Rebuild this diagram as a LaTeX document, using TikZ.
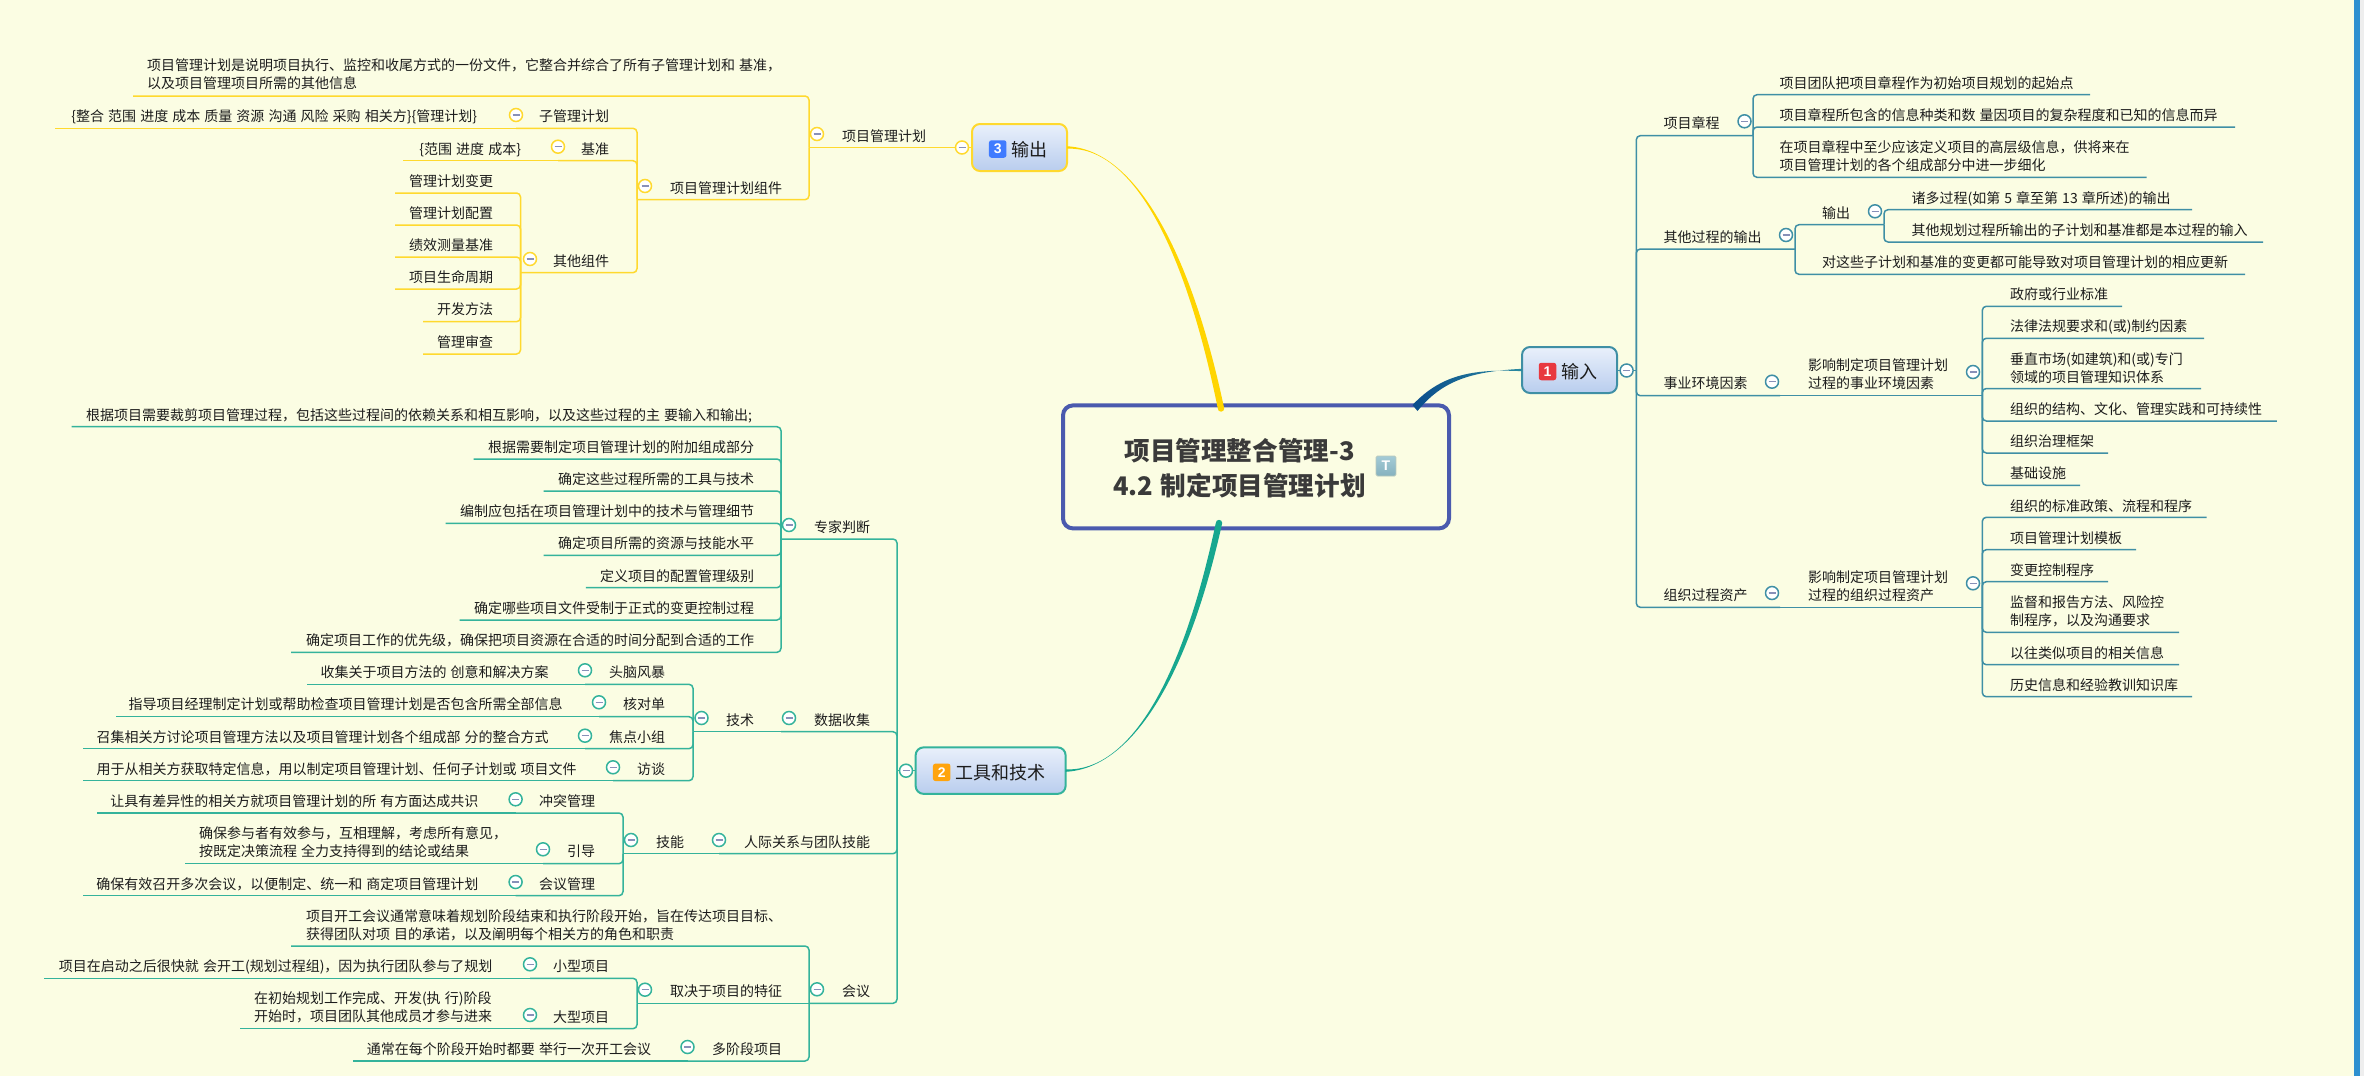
\documentclass[tikz,border=0pt]{standalone}
\usepackage{fontspec}
\setmainfont{Noto Sans CJK SC}[WordSpace=1.3]
\newfontfamily\latf{Liberation Sans}
\definecolor{bgc}{HTML}{FBFDE3}
\definecolor{yl}{HTML}{FFD92E}
\definecolor{yld}{HTML}{FFD500}
\definecolor{gn}{HTML}{34B39B}
\definecolor{gnd}{HTML}{17A78F}
\definecolor{bl}{HTML}{3F8FA5}
\definecolor{txt}{HTML}{1C1C1C}
\definecolor{minusc}{HTML}{8890B8}
\definecolor{rootc}{HTML}{4A5AAE}
\definecolor{boxt}{HTML}{E9F0FB}
\definecolor{boxb}{HTML}{B9CDEE}
\definecolor{strip}{HTML}{2E90D0}
\definecolor{stripb}{HTML}{EEEEEE}
\definecolor{roott}{HTML}{3A3A3A}
\definecolor{ticb}{HTML}{B7C9BE}
\definecolor{tict}{HTML}{A3CBD6}
\definecolor{ticl}{HTML}{85B1BE}
\definecolor{bdgb}{HTML}{3F7BFF}
\definecolor{bdgo}{HTML}{FFA40D}
\definecolor{bdgr}{HTML}{E8383F}
\definecolor{arcn}{HTML}{0A4C8C}
\definecolor{arct}{HTML}{2A8AA0}
\newcommand\tlbl[5]{\node[lbl,anchor=#4] (#1) at (#2,#3) {\rule{0pt}{11pt}#5\rule[-3pt]{0pt}{3pt}};}
% name, parent junction, far x, underline y, text x, text y, anchor, text
\newcommand\tp[8]{\tlbl{#1}{#5}{#6}{#7}{#8}\coordinate (#1-j) at (#3,#4);\draw[conn] (#2) |- (#1-j);}
\newcommand\tq[8]{\tlbl{#1}{#5}{#6}{#7}{#8}\coordinate (#1-j) at (#3,#4);\draw[conn] (#2) -- (#1-j);}
\tikzset{
  lbl/.style={inner sep=0pt,outer sep=0pt,align=left,text=txt,yshift=-1pt,font=\fontsize{14}{18}\selectfont},
  conn/.style={line width=1.5pt,rounded corners=4pt},
  tog/.style={circle,draw=#1,fill=white,minimum size=13pt,inner sep=0pt,line width=1.5pt,
    path picture={\draw[minusc,line width=1.5pt] ([xshift=-3.5pt]path picture bounding box.center) -- ([xshift=3.5pt]path picture bounding box.center);}},
  topbox/.style={draw=#1,line width=2pt,rounded corners=8pt,top color=boxt,bottom color=boxb,inner sep=0pt,outer sep=0pt},
  badge/.style={fill=#1,rounded corners=2.5pt,minimum size=17.5pt,inner sep=0pt,text=white,font=\latf\bfseries\fontsize{14}{14}\selectfont},
  toptext/.style={inner sep=0pt,text=txt,font=\fontsize{18}{20}\selectfont,anchor=west},
}
\begin{document}
\begin{tikzpicture}[x=1pt,y=-1pt]
\useasboundingbox (0,0) rectangle (2364,1076);
\fill[bgc] (0,0) rectangle (2364,1076);
\fill[strip] (2354,0) rectangle (2360,1076);
\fill[stripb] (2360,0) rectangle (2364,1076);

% ---------- root
\node[draw=rootc,line width=4pt,rounded corners=10pt,minimum width=386pt,minimum height=123pt,inner sep=0pt,outer sep=0pt,fill=bgc] (root) at (1256,466.9) {};
\node[inner sep=0pt,align=center,text=roott,font=\bfseries\fontsize{25.6}{35}\selectfont] (rootT) at (1239.5,468.5) {项目管理整合管理-3\\4.2 制定项目管理计划};
\node[draw=ticb,line width=.8pt,rounded corners=1.5pt,top color=tict,bottom color=ticl,minimum size=20pt,inner sep=0pt,text=white,font=\latf\bfseries\fontsize{14}{14}\selectfont] (rootI) at (1386,466) {T};

% ---------- yellow branch
\begin{scope}[conn/.append style={draw=yl}]
\coordinate (b3w) at (972,147.5);
\tq{pmp}{b3w}{809}{147.5}{926}{136}{east}{项目管理计划}
\tp{pmpdoc}{pmp-j}{133}{96}{147}{74.5}{west}{项目管理计划是说明项目执行、监控和收尾方式的一份文件，它整合并综合了所有子管理计划和 基准，\\以及项目管理项目所需的其他信息}
\tp{comp}{pmp-j}{637}{199.7}{782}{187.7}{east}{项目管理计划组件}
\tp{sub}{comp-j}{516}{128.3}{609}{116}{east}{子管理计划}
\tq{subd}{sub-j}{55}{128.3}{477}{116}{east}{\{整合 范围 进度 成本 质量 资源 沟通 风险 采购 相关方\}\{管理计划\}}
\tp{base}{comp-j}{558}{160.7}{609}{149}{east}{基准}
\tq{based}{base-j}{403}{160.7}{521}{149}{east}{\{范围 进度 成本\}}
\tp{oth}{comp-j}{520.5}{272.7}{609}{260.7}{east}{其他组件}
\tp{o1}{oth-j}{395}{193}{493}{180.7}{east}{管理计划变更}
\tp{o2}{oth-j}{395}{225}{493}{213}{east}{管理计划配置}
\tp{o3}{oth-j}{395}{257}{493}{245}{east}{绩效测量基准}
\tp{o4}{oth-j}{395}{289}{493}{277}{east}{项目生命周期}
\tp{o5}{oth-j}{423}{321.7}{493}{309.5}{east}{开发方法}
\tp{o6}{oth-j}{423}{354}{493}{341.7}{east}{管理审查}
\node[tog=yl] (t31) at (962,147.5) {};
\node[tog=yl] (t32) at (817,134) {};
\node[tog=yl] (t33) at (645,186) {};
\node[tog=yl] (t34) at (516,115) {};
\node[tog=yl] (t35) at (558,146.7) {};
\node[tog=yl] (t36) at (530,259) {};
\end{scope}

% ---------- green branch
\begin{scope}[conn/.append style={draw=gn}]
\coordinate (b2w) at (915.5,770.7);
\coordinate (b2j) at (897,770.7);
\draw[conn] (b2w) -- (b2j);
\tp{exp}{b2j}{781}{539}{870}{526.7}{east}{专家判断}
\tp{e1}{exp-j}{71.5}{426.7}{752}{414.7}{east}{根据项目需要裁剪项目管理过程，包括这些过程间的依赖关系和相互影响，以及这些过程的主 要输入和输出;}
\tp{e2}{exp-j}{473.5}{459}{754}{447}{east}{根据需要制定项目管理计划的附加组成部分}
\tp{e3}{exp-j}{543.6}{491}{754}{479}{east}{确定这些过程所需的工具与技术}
\tp{e4}{exp-j}{445.5}{523.3}{754}{511}{east}{编制应包括在项目管理计划中的技术与管理细节}
\tp{e5}{exp-j}{543.6}{555.3}{754}{543}{east}{确定项目所需的资源与技能水平}
\tp{e6}{exp-j}{585.8}{587.7}{754}{575.7}{east}{定义项目的配置管理级别}
\tp{e7}{exp-j}{459.5}{620}{754}{607.7}{east}{确定哪些项目文件受制于正式的变更控制过程}
\tp{e8}{exp-j}{291}{652.3}{754}{640}{east}{确定项目工作的优先级，确保把项目资源在合适的时间分配到合适的工作}
\tp{dat}{b2j}{781}{731.7}{870}{720}{east}{数据收集}
\tq{tech}{dat-j}{693}{731.7}{754}{720}{east}{技术}
\tp{d1}{tech-j}{585}{684.3}{665}{671.7}{east}{头脑风暴}
\tq{d1d}{d1-j}{307}{684.3}{548.6}{671.7}{east}{收集关于项目方法的 创意和解决方案}
\tp{d2}{tech-j}{599}{716.7}{665}{703.7}{east}{核对单}
\tq{d2d}{d2-j}{115.7}{716.7}{562.6}{703.7}{east}{指导项目经理制定计划或帮助检查项目管理计划是否包含所需全部信息}
\tp{d3}{tech-j}{585}{748.7}{665}{737.3}{east}{焦点小组}
\tq{d3d}{d3-j}{82.8}{748.7}{548.6}{737.3}{east}{召集相关方讨论项目管理方法以及项目管理计划各个组成部 分的整合方式}
\tp{d4}{tech-j}{613}{780.7}{665}{768.7}{east}{访谈}
\tq{d4d}{d4-j}{82.8}{780.7}{576.6}{768.7}{east}{用于从相关方获取特定信息，用以制定项目管理计划、任何子计划或 项目文件}
\tp{ppl}{b2j}{719}{853.7}{870}{841.7}{east}{人际关系与团队技能}
\tq{skl}{ppl-j}{623}{853.7}{684}{841.7}{east}{技能}
\tp{s1}{skl-j}{515.6}{813}{595}{801}{east}{冲突管理}
\tq{s1d}{s1-j}{96.8}{813}{478.4}{801}{east}{让具有差异性的相关方就项目管理计划的所 有方面达成共识}
\tp{s2}{skl-j}{543}{863.7}{595}{851}{east}{引导}
\tq{s2d}{s2-j}{185}{863.7}{199}{842}{west}{确保参与者有效参与，互相理解，考虑所有意见，\\按既定决策流程 全力支持得到的结论或结果}
\tp{s3}{skl-j}{515.6}{895.7}{595}{883.7}{east}{会议管理}
\tq{s3d}{s3-j}{82.8}{895.7}{478.4}{883.7}{east}{确保有效召开多次会议，以便制定、统一和 商定项目管理计划}
\tp{mtg}{b2j}{809}{1003.3}{870}{991}{east}{会议}
\tp{m0}{mtg-j}{291}{946}{306}{925}{west}{项目开工会议通常意味着规划阶段结束和执行阶段开始，旨在传达项目目标、\\获得团队对项 目的承诺，以及阐明每个相关方的角色和职责}
\tq{m1}{mtg-j}{637}{1003.3}{782}{991}{east}{取决于项目的特征}
\tp{m1a}{m1-j}{530}{978.3}{609}{966}{east}{小型项目}
\tq{m1ad}{m1a-j}{43.5}{978.3}{492.5}{966}{east}{项目在启动之后很快就 会开工(规划过程组)，因为执行团队参与了规划}
\tp{m1b}{m1-j}{530}{1028.7}{609}{1017}{east}{大型项目}
\tq{m1bd}{m1b-j}{240}{1028.7}{254}{1007.5}{west}{在初始规划工作完成、开发(执 行)阶段\\开始时，项目团队其他成员才参与进来}
\tp{m2}{mtg-j}{687.5}{1061}{782}{1049.3}{east}{多阶段项目}
\tq{m2d}{m2-j}{353}{1061}{651}{1049.3}{east}{通常在每个阶段开始时都要 举行一次开工会议}
\node[tog=gn] (t201) at (906,770.7) {};
\node[tog=gn] (t202) at (789,525) {};
\node[tog=gn] (t203) at (789,718) {};
\node[tog=gn] (t204) at (701.5,718) {};
\node[tog=gn] (t205) at (585,670.3) {};
\node[tog=gn] (t206) at (599,702.3) {};
\node[tog=gn] (t207) at (585,735.7) {};
\node[tog=gn] (t208) at (613,767.3) {};
\node[tog=gn] (t209) at (719,840) {};
\node[tog=gn] (t210) at (631,840) {};
\node[tog=gn] (t211) at (515.6,799.3) {};
\node[tog=gn] (t212) at (543,849.3) {};
\node[tog=gn] (t213) at (515.6,882) {};
\node[tog=gn] (t214) at (817,989.3) {};
\node[tog=gn] (t215) at (645,989.7) {};
\node[tog=gn] (t216) at (530,964.3) {};
\node[tog=gn] (t217) at (530,1015) {};
\node[tog=gn] (t218) at (687.5,1047) {};
\end{scope}

% ---------- blue branch
\begin{scope}[conn/.append style={draw=bl}]
\coordinate (b1e) at (1617,370.5);
\coordinate (b1j) at (1636.3,370.5);
\draw[conn] (b1e) -- (b1j);
\tp{cha}{b1j}{1753}{135.7}{1663.5}{122.7}{west}{项目章程}
\tp{c1}{cha-j}{2090}{94.7}{1779.6}{82.7}{west}{项目团队把项目章程作为初始项目规划的起始点}
\tp{c2}{cha-j}{2235}{127}{1779.6}{114.7}{west}{项目章程所包含的信息种类和数 量因项目的复杂程度和已知的信息而异}
\tp{c3}{cha-j}{2146.5}{177.3}{1779.6}{155.8}{west}{在项目章程中至少应该定义项目的高层级信息，供将来在\\项目管理计划的各个组成部分中进一步细化}
\tp{prc}{b1j}{1795}{249}{1663.5}{236.7}{west}{其他过程的输出}
\tp{pout}{prc-j}{1884}{224.7}{1822}{212.7}{west}{输出}
\tp{p1}{pout-j}{2192}{209.7}{1911.5}{198}{west}{诸多过程(如第 5 章至第 13 章所述)的输出}
\tp{p2}{pout-j}{2263}{242}{1911.5}{230}{west}{其他规划过程所输出的子计划和基准都是本过程的输入}
\tp{p3}{prc-j}{2245}{274.3}{1822}{262}{west}{对这些子计划和基准的变更都可能导致对项目管理计划的相应更新}
\tp{env}{b1j}{1780}{395.7}{1663.5}{383}{west}{事业环境因素}
\tq{envd}{env-j}{1982.3}{395.7}{1808}{374.3}{west}{影响制定项目管理计划\\过程的事业环境因素}
\tp{v1}{envd-j}{2122}{306.3}{2010}{294}{west}{政府或行业标准}
\tp{v2}{envd-j}{2204}{338.3}{2010}{326}{west}{法律法规要求和(或)制约因素}
\tp{v3}{envd-j}{2201}{388.5}{2010}{368.3}{west}{垂直市场(如建筑)和(或)专门\\领域的项目管理知识体系}
\tp{v4}{envd-j}{2276.8}{421}{2010}{409}{west}{组织的结构、文化、管理实践和可持续性}
\tp{v5}{envd-j}{2108}{453}{2010}{440.7}{west}{组织治理框架}
\tp{v6}{envd-j}{2080}{485.3}{2010}{473}{west}{基础设施}
\tp{opa}{b1j}{1780}{607.3}{1663.5}{595}{west}{组织过程资产}
\tq{opad}{opa-j}{1982.3}{607.3}{1808}{586}{west}{影响制定项目管理计划\\过程的组织过程资产}
\tp{a1}{opad-j}{2206.6}{517.3}{2010}{505.7}{west}{组织的标准政策、流程和程序}
\tp{a2}{opad-j}{2136}{549.7}{2010}{537.7}{west}{项目管理计划模板}
\tp{a3}{opad-j}{2108}{581.7}{2010}{569.7}{west}{变更控制程序}
\tp{a4}{opad-j}{2179}{632.3}{2010}{610.7}{west}{监督和报告方法、风险控\\制程序，以及沟通要求}
\tp{a5}{opad-j}{2179}{664.7}{2010}{652.7}{west}{以往类似项目的相关信息}
\tp{a6}{opad-j}{2192}{696.7}{2010}{684.7}{west}{历史信息和经验教训知识库}
\node[tog=bl] (t101) at (1626.6,370.5) {};
\node[tog=bl] (t102) at (1744.5,121.3) {};
\node[tog=bl] (t103) at (1786,235) {};
\node[tog=bl] (t104) at (1875,211.3) {};
\node[tog=bl] (t105) at (1772,381.7) {};
\node[tog=bl] (t106) at (1973,372) {};
\node[tog=bl] (t107) at (1772,593) {};
\node[tog=bl] (t108) at (1973,583.3) {};
\end{scope}

% ---------- main topics
\node[topbox=yl,minimum width=95pt,minimum height=47pt] (b3) at (1019.5,147.5) {};
\node[badge=bdgb] (i3) at (997.7,149) {3};
\node[toptext] (l3) at (1011,149.5) {输出};
\node[topbox=gn,minimum width=150pt,minimum height=46.5pt] (b2) at (990.6,770.6) {};
\node[badge=bdgo] (i2) at (941.7,772.3) {2};
\node[toptext] (l2) at (955.5,772.5) {工具和技术};
\node[topbox=bl,minimum width=95pt,minimum height=46pt] (b1) at (1569.5,370) {};
\node[badge=bdgr] (i1) at (1547.5,371.5) {1};
\node[toptext] (l1) at (1561.5,372) {输入};

% ---------- central curves
\coordinate (k3) at (1221,408.5);
\fill[yld] ([yshift=-1.2pt]b3.east) .. controls (1130,146) and (1183.5,240) .. ([xshift=-3.2pt]k3) arc[start angle=180,end angle=360,radius=3.2pt] .. controls (1188.5,240) and (1131,149) .. ([yshift=1.2pt]b3.east) -- cycle;
\coordinate (k2) at (1219,523);
\fill[gnd] ([yshift=-1.2pt]b2.east) .. controls (1131,768.5) and (1187.5,680) .. ([xshift=3.2pt]k2) arc[start angle=0,end angle=180,radius=3.2pt] .. controls (1182.5,680) and (1130,771.5) .. ([yshift=1.2pt]b2.east) -- cycle;
\coordinate (k1) at (1415,408);
\shade[left color=arcn,right color=arct] ([yshift=-1.2pt]b1.west) .. controls (1470,368.5) and (1440,376) .. (1412.5,405) -- (1417.5,411) .. controls (1442,381) and (1470,371.5) .. ([yshift=1.2pt]b1.west) -- cycle;
\end{tikzpicture}
\end{document}
